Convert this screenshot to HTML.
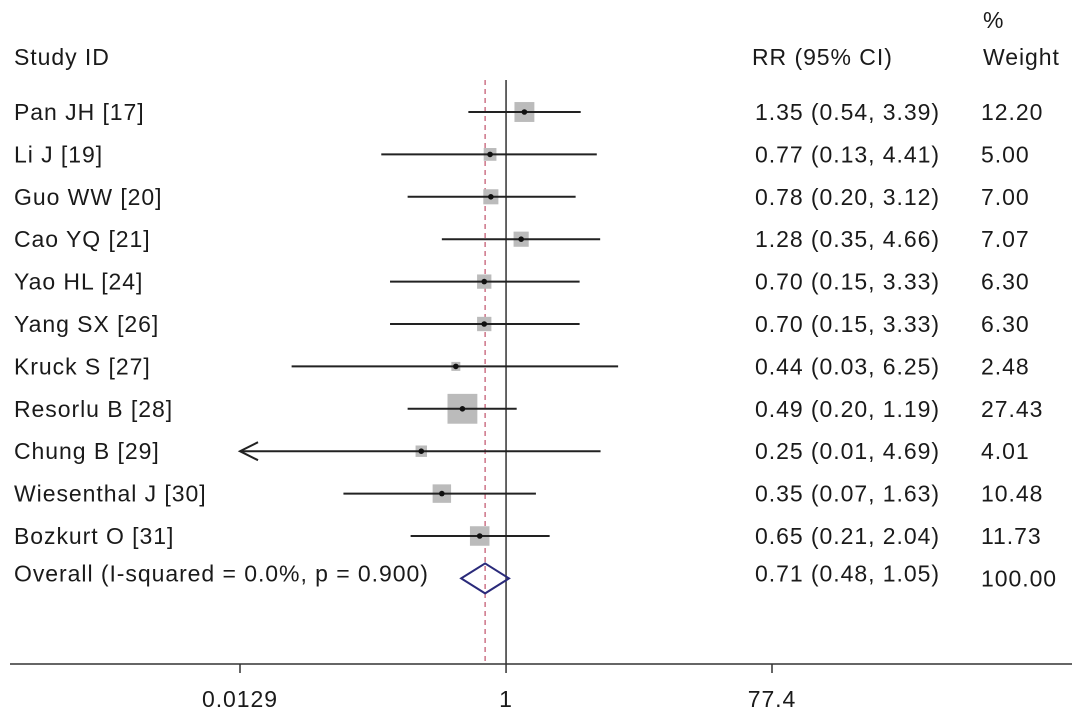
<!DOCTYPE html>
<html><head><meta charset="utf-8"><style>
html,body{margin:0;padding:0;background:#fff;}
svg{display:block;font-family:"Liberation Sans",Arial,sans-serif;}
text{font-size:23px;fill:#1a1a1a;letter-spacing:0.95px;}
</style></head><body>
<svg id="chart" width="1087" height="721">
<text x="14" y="65">Study ID</text>
<text x="752" y="65">RR (95% CI)</text>
<text x="983" y="28">%</text>
<text x="983" y="65">Weight</text>
<g id="rows"></g>
<line x1="10" y1="664" x2="1072" y2="664" stroke="#333" stroke-width="1.5"/>
<g id="ticks"></g>
</svg>
<script>
const studies=["Pan JH [17]","Li J [19]","Guo WW [20]","Cao YQ [21]","Yao HL [24]","Yang SX [26]","Kruck S [27]","Resorlu B [28]","Chung B [29]","Wiesenthal J [30]","Bozkurt O [31]"];
const rr=[1.35,0.77,0.78,1.28,0.70,0.70,0.44,0.49,0.25,0.35,0.65];
const lo=[0.54,0.13,0.20,0.35,0.15,0.15,0.03,0.20,0.01,0.07,0.21];
const hi=[3.39,4.41,3.12,4.66,3.33,3.33,6.25,1.19,4.69,1.63,2.04];
const weights=[12.20,5.00,7.00,7.07,6.30,6.30,2.48,27.43,4.01,10.48,11.73];
const overall=[0.71,0.48,1.05];
const overallLabel="Overall (I-squared = 0.0%, p = 0.900)";
const tickVals=[0.0129,1,77.4];
const tickLabels=["0.0129","1","77.4"];

const xMin=0.0129,xMax=77.4;
const X=v=>240+(Math.log10(Math.max(v,xMin))-Math.log10(xMin))/(Math.log10(xMax)-Math.log10(xMin))*532;
const Y=i=>112+i*42.4;
const NS="http://www.w3.org/2000/svg";
const rows=document.getElementById('rows');
function mk(t,a,p){const e=document.createElementNS(NS,t);for(const k in a)e.setAttribute(k,a[k]);(p||rows).appendChild(e);return e;}
const nRows=studies.length;
let l=mk('line',{x1:X(1),y1:80,x2:X(1),y2:664,stroke:'#333','stroke-width':1.5});


l=mk('line',{x1:X(overall[0]),y1:80,x2:X(overall[0]),y2:664,stroke:'#c0506a','stroke-width':1.2,'stroke-dasharray':'5,4'});


studies.forEach((s,i)=>{
  const y=Y(i);
  const g=mk('g',{});
  
  
  let t=mk('text',{x:14,y:y+8},g);t.textContent=s;
  
  
  const side=5.7*Math.sqrt(weights[i]);
  let sq=mk('rect',{x:X(rr[i])-side/2,y:y-side/2,width:side,height:side,fill:'#bbb'},g);
  
  
  let ci=mk('line',{x1:X(lo[i]),y1:y,x2:X(hi[i]),y2:y,stroke:'#222','stroke-width':2},g);
  
  
  if(lo[i]<xMin){
    let a=mk('path',{d:`M${X(xMin)+18},${y-9} L${X(xMin)},${y} L${X(xMin)+18},${y+9}`,fill:'none',stroke:'#222','stroke-width':2},g);
    
    
  }
  let d=mk('circle',{cx:X(rr[i]),cy:y,r:2.8,fill:'#111'},g);
  
  
  t=mk('text',{x:755,y:y+8},g);t.textContent=`${rr[i].toFixed(2)} (${lo[i].toFixed(2)}, ${hi[i].toFixed(2)})`;
  
  
  t=mk('text',{x:981,y:y+8},g);t.textContent=weights[i].toFixed(2);
  
  
});
const yo=Y(nRows);
let t=mk('text',{x:14,y:yo+3});t.textContent=overallLabel;


let dm=mk('polygon',{points:`${X(overall[1])},${yo} ${X(overall[0])},${yo-15} ${X(overall[2])},${yo} ${X(overall[0])},${yo+15}`,fill:'none',stroke:'#2a2a7a','stroke-width':2});


t=mk('text',{x:755,y:yo+3});t.textContent=`${overall[0].toFixed(2)} (${overall[1].toFixed(2)}, ${overall[2].toFixed(2)})`;


t=mk('text',{x:981,y:yo+8});t.textContent="100.00";


const tk=document.getElementById('ticks');
tickVals.forEach((v,i)=>{
  let ln=mk('line',{x1:X(v),y1:664,x2:X(v),y2:673,stroke:'#333','stroke-width':1.5},tk);
  
  
  let tx=mk('text',{x:X(v),y:707,'text-anchor':'middle'},tk);tx.textContent=tickLabels[i];
  
  
});
</script>
</body></html>
